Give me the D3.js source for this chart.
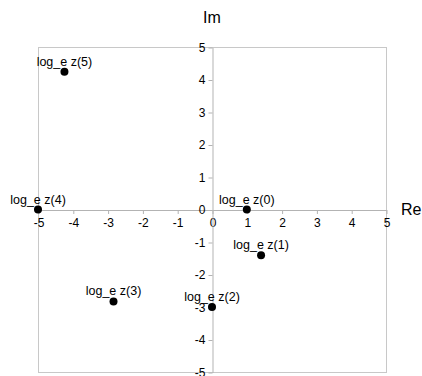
<!DOCTYPE html>
<html lang="en">
<head>
    <meta charset="UTF-8">
    <title>log_e z(n)</title>
    <script src="https://d3js.org/d3.v7.min.js"></script>
    <style>
        body {
            margin: 0;
            font-family: "Liberation Sans", Arial, sans-serif;
            background: #fff;
        }
        .axis path, .axis line {
            stroke: #b3b3b3;
        }
        .axis text {
            font-size: 12px;
            fill: #000;
        }
        .pt-label {
            font-size: 12.5px;
        }
        .axis-title {
            font-size: 16px;
        }
    </style>
</head>
<body>
    <svg width="422" height="376"></svg>

    <script>
        const labels = ["log_e z(0)", "log_e z(1)", "log_e z(2)", "log_e z(3)", "log_e z(4)", "log_e z(5)"];
        const reValues = [1, 1.41, 0, -2.83, -5, -4.24];
        const imValues = [0, -1.41, -3, -2.83, 0, 4.24];
        const ticks = [-5, -4, -3, -2, -1, 0, 1, 2, 3, 4, 5];

        const data = labels.map((l, i) => ({ label: l, re: reValues[i], im: imValues[i] }));

        const svg = d3.select("svg");

        const xScale = d3.scaleLinear().domain([-5, 5]).range([38, 386]);
        const yScale = d3.scaleLinear().domain([-5, 5]).range([372, 47]);

        // plot frame
        svg.append("rect")
           .attr("x", xScale(-5) + 0.5)
           .attr("y", yScale(5) + 0.5)
           .attr("width", xScale(5) - xScale(-5))
           .attr("height", yScale(-5) - yScale(5))
           .attr("fill", "none")
           .attr("stroke", "#c8c8c8");

        // axes crossing at the origin, plain hyphen for negatives
        svg.append("g")
           .attr("class", "axis")
           .attr("transform", `translate(0.5,${yScale(0) + 0.5})`)
           .call(d3.axisBottom(xScale).tickValues(ticks).tickSize(4).tickSizeOuter(0).tickFormat(d => String(d)))
           .call(g => g.selectAll("text").attr("dy", "0.8em"));

        svg.append("g")
           .attr("class", "axis")
           .attr("transform", `translate(${xScale(0) + 0.5},0.5)`)
           .call(d3.axisLeft(yScale).tickValues(ticks).tickSize(4).tickSizeOuter(0).tickFormat(d => String(d)));

        svg.selectAll(".axis text").style("font-family", "'Liberation Sans', Arial, sans-serif");

        // axis titles
        svg.append("text")
           .attr("class", "axis-title")
           .attr("x", xScale(0))
           .attr("y", 23)
           .attr("text-anchor", "middle")
           .text("Im");

        svg.append("text")
           .attr("class", "axis-title")
           .attr("x", 401)
           .attr("y", 215)
           .text("Re");

        // points
        svg.selectAll(".dot")
           .data(data)
           .enter()
           .append("circle")
           .attr("class", "dot")
           .attr("cx", d => xScale(d.re))
           .attr("cy", d => yScale(d.im))
           .attr("r", 4)
           .attr("fill", "#000");

        svg.selectAll(".pt-label")
           .data(data)
           .enter()
           .append("text")
           .attr("class", "pt-label")
           .attr("x", d => xScale(d.re))
           .attr("y", d => yScale(d.im) - 6)
           .attr("text-anchor", "middle")
           .text(d => d.label);
    </script>
</body>
</html>
